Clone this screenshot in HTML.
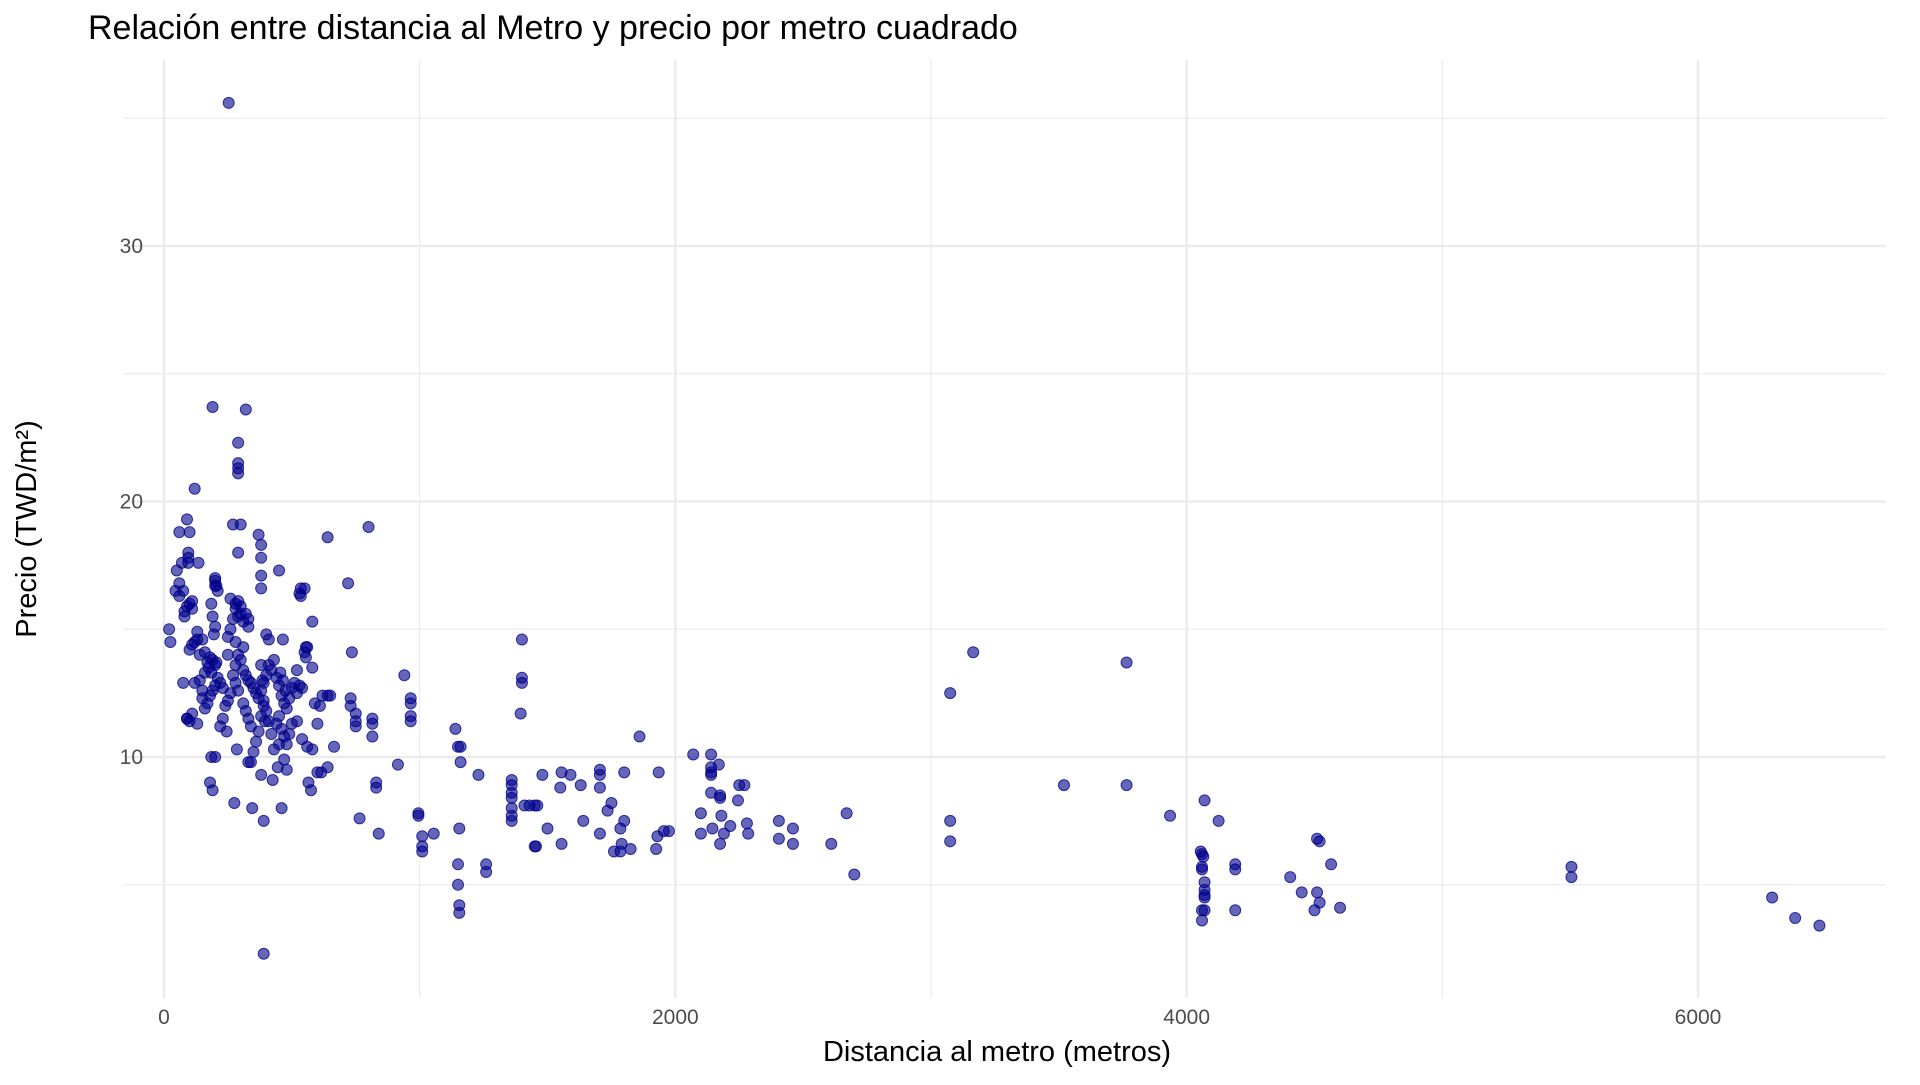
<!DOCTYPE html>
<html><head><meta charset="utf-8">
<style>
html,body{margin:0;padding:0;background:#fff;}
svg text{font-family:"Liberation Sans",Arial,sans-serif;}
</style></head>
<body>
<svg id="chart" width="1920" height="1080" viewBox="0 0 1920 1080" xmlns="http://www.w3.org/2000/svg">
<rect width="1920" height="1080" fill="#fff"/>
<text x="88" y="39" font-size="34" fill="#000">Relación entre distancia al Metro y precio por metro cuadrado</text>
<g id="grid"></g>
<g id="ticks"></g>
<g id="points"></g>
<text x="997" y="1061" font-size="29" text-anchor="middle" fill="#000">Distancia al metro (metros)</text>
<text transform="translate(36,529) rotate(-90)" font-size="29" text-anchor="middle" fill="#000">Precio (TWD/m²)</text>
</svg>
<script>
const xMajor=[0,2000,4000,6000];
const xMinor=[1000,3000,5000];
const yMajor=[10,20,30];
const yMinor=[5,15,25,35];
const xTickLabels=["0","2000","4000","6000"];
const yTickLabels=["10","20","30"];
const distancia=[253,190,320,290,290,290,290,120,90,60,100,270,300,370,380,380,380,380,640,800,450,720,535,535,550,50,60,45,75,95,95,95,200,200,290,20,25,80,110,135,465,580,735,1400,1400,1400,1395,940,620,640,650,530,580,555,730,730,750,750,750,815,815,815,830,830,765,840,915,965,965,965,965,995,995,1010,1010,1010,1055,1140,1150,1160,1160,1230,1155,1150,1150,1155,1155,1260,1260,1360,1360,1360,1360,1360,1360,1360,1410,1430,1450,1460,1450,1455,1480,1500,1555,1590,1550,1555,1630,1640,1705,1705,1705,1705,1735,1750,1760,1785,1790,1785,1800,1800,1825,1860,1935,1930,1925,1955,1975,2070,2100,2100,2140,2140,2140,2140,2140,2170,2175,2175,2180,2175,2145,2190,2215,2245,2250,2270,2280,2285,2405,2405,2460,2460,2610,2670,2700,3075,3075,3075,3165,3520,3765,3765,3935,4070,4125,4055,4060,4065,4060,4060,4070,4070,4070,4070,4060,4070,4060,4190,4190,4190,4405,4450,4510,4520,4510,4520,4500,4565,4600,5505,5505,6290,6380,6475,390,390,460,345,275,190,180,200,185,285,340,380,425,445,480,565,575,615,640,665,600,100,90,130,
100,110,120,130,140,150,160,170,175,180,185,190,200,205,195,200,190,185,205,210,200,260,280,290,300,310,320,330,280,290,300,310,320,330,340,350,360,370,380,390,400,410,420,430,440,450,460,470,480,490,500,510,520,540,550,555,560,450,440,460,470,450,430,420,410,400,390,380,370,360,350,340,330,320,310,290,280,270,260,250,240,230,220,210,200,190,180,170,160,150,220,230,245,500,520,540,560,580,600,590,610,480,490,470,455,465,475,250,260,270,280,300,380,385,390,395,400,410,60,70,80,90,100,110,130,140,150,160,120,110,75,90,520,530,330,250,310,330,280,290];
const precio=[35.6,23.7,23.6,22.3,21.5,21.3,21.1,20.5,19.3,18.8,18.8,19.1,19.1,18.7,18.3,17.8,17.1,16.6,18.6,19.0,17.3,16.8,16.6,16.3,16.6,17.3,16.8,16.5,16.5,18.0,17.6,17.8,17.0,16.7,18.0,15.0,14.5,15.7,16.1,17.6,14.6,15.3,14.1,14.6,13.1,12.9,11.7,13.2,12.4,12.4,12.4,12.8,13.5,14.3,12.3,12.0,11.7,11.4,11.2,11.5,11.3,10.8,9.0,8.8,7.6,7.0,9.7,12.3,12.1,11.6,11.4,7.8,7.7,6.9,6.5,6.3,7.0,11.1,10.4,10.4,9.8,9.3,7.2,5.8,5.0,4.2,3.9,5.8,5.5,9.1,8.9,8.6,8.4,8.0,7.7,7.5,8.1,8.1,8.1,8.1,6.5,6.5,9.3,7.2,9.4,9.3,8.8,6.6,8.9,7.5,9.5,9.3,8.8,7.0,7.9,8.2,6.3,7.2,6.6,6.3,9.4,7.5,6.4,10.8,9.4,6.9,6.4,7.1,7.1,10.1,7.8,7.0,10.1,9.6,9.4,9.3,8.6,9.7,8.5,8.4,7.7,6.6,7.2,7.0,7.3,8.3,8.9,8.9,7.4,7.0,7.5,6.8,7.2,6.6,6.6,7.8,5.4,12.5,7.5,6.7,14.1,8.9,13.7,8.9,7.7,8.3,7.5,6.3,6.2,6.1,5.7,5.6,5.1,4.8,4.6,4.5,4.0,4.0,3.6,5.8,5.6,4.0,5.3,4.7,6.8,6.7,4.7,4.3,4.0,5.8,4.1,5.7,5.3,4.5,3.7,3.4,2.3,7.5,8.0,8.0,8.2,8.7,9.0,10.0,10.0,10.3,9.8,9.3,9.1,9.6,9.5,9.0,8.7,9.4,9.6,10.4,9.4,11.4,11.5,11.3,
14.2,14.4,14.5,14.6,14.0,14.6,14.1,13.7,13.5,13.9,13.3,13.8,13.6,13.7,14.8,15.1,15.5,16.0,16.7,16.5,16.9,16.2,15.8,15.5,15.6,15.3,15.6,15.1,14.5,14.0,13.8,13.4,13.2,13.0,12.9,12.7,12.5,12.3,12.6,12.9,13.2,13.6,13.4,13.8,13.1,12.8,12.4,12.1,11.9,12.3,12.7,12.9,12.5,12.7,14.1,13.9,14.3,11.6,11.3,11.1,10.8,10.5,10.3,10.9,11.4,11.8,12.0,11.6,11.0,10.6,10.2,11.2,11.5,11.8,12.1,12.6,12.9,13.2,12.5,12.2,12.0,12.7,12.9,13.1,12.8,12.6,12.4,12.1,11.9,12.3,11.2,11.5,11.0,11.3,11.4,10.7,10.4,10.3,11.3,12.1,12.0,10.5,10.9,9.9,13.3,13.0,12.6,14.7,15.0,15.4,16.0,15.9,13.6,13.0,12.2,11.4,14.8,14.6,16.3,17.6,15.5,15.9,16.0,15.8,14.9,13.0,12.6,13.3,12.9,11.7,12.9,11.5,13.4,16.4,9.8,14.0,14.3,15.4,13.6,16.1];
const NS="http://www.w3.org/2000/svg";
const X0=164, XS=(1698-164)/6000;
const Y10=757, YS=(757-246)/20;
function sx(v){return X0+v*XS;}
function sy(v){return Y10-(v-10)*YS;}
const PL=124,PR=1886,PT=60,PB=998;
const grid=document.getElementById('grid');
const ticks=document.getElementById('ticks');
function line(x1,y1,x2,y2,w,name){
  const l=document.createElementNS(NS,'line');
  l.setAttribute('x1',x1);l.setAttribute('y1',y1);l.setAttribute('x2',x2);l.setAttribute('y2',y2);
  l.setAttribute('stroke','#ebebeb');l.setAttribute('stroke-width',w);
  
  
  grid.appendChild(l);
}
yMinor.forEach(v=>line(PL,sy(v),PR,sy(v),1.2,'y-minor-gridline'));
xMinor.forEach(v=>line(sx(v),PT,sx(v),PB,1.2,'x-minor-gridline'));
yMajor.forEach(v=>line(PL,sy(v),PR,sy(v),2.4,'y-major-gridline'));
xMajor.forEach(v=>line(sx(v),PT,sx(v),PB,2.4,'x-major-gridline'));
xMajor.forEach((v,i)=>{
  const t=document.createElementNS(NS,'text');
  t.setAttribute('x',sx(v));t.setAttribute('y',1024);
  t.setAttribute('text-anchor','middle');t.setAttribute('font-size','21');t.setAttribute('fill','#4d4d4d');
  t.textContent=xTickLabels[i];
  
  
  ticks.appendChild(t);
});
yMajor.forEach((v,i)=>{
  const t=document.createElementNS(NS,'text');
  t.setAttribute('x',143);t.setAttribute('y',sy(v)+7);
  t.setAttribute('text-anchor','end');t.setAttribute('font-size','21');t.setAttribute('fill','#4d4d4d');
  t.textContent=yTickLabels[i];
  
  
  ticks.appendChild(t);
});
const pts=document.getElementById('points');
for(let i=0;i<Math.min(distancia.length,precio.length);i++){
  const c=document.createElementNS(NS,'circle');
  c.setAttribute('cx',sx(distancia[i]));c.setAttribute('cy',sy(precio[i]));
  c.setAttribute('r',5.5);
  c.setAttribute('fill','rgba(0,0,139,0.6)');
  c.setAttribute('stroke','rgba(0,0,139,0.75)');c.setAttribute('stroke-width','1');
  
  
  pts.appendChild(c);
}
</script>
</body></html>
